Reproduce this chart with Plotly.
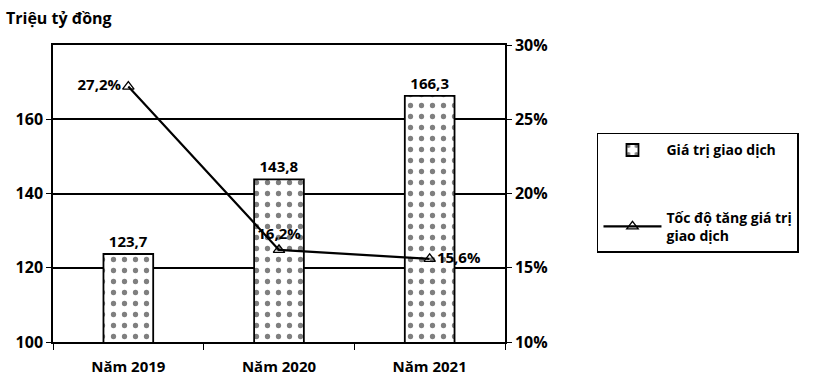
import plotly.graph_objects as go

# Data
years = ["Năm 2019", "Năm 2020", "Năm 2021"]
transaction_value = [123.7, 143.8, 166.3]      # triệu tỷ đồng
growth_rate = [27.2, 16.2, 15.6]               # %
left_ticks = [100, 120, 140, 160]
right_ticks = [10, 15, 20, 25, 30]

def vn(v):
    return f"{v:.1f}".replace(".", ",")

FONT = "'Open Sans', Lato, sans-serif"
BOLD = dict(family=FONT, size=15, color="black", weight="bold")

fig = go.Figure()

fig.add_trace(go.Bar(
    x=years, y=transaction_value, name="Giá trị giao dịch",
    width=0.33,
    marker=dict(color="white", line=dict(color="black", width=1.8),
                pattern=dict(shape=".", fgcolor="black", bgcolor="white",
                             size=11, solidity=0.18)),
    text=[vn(v) for v in transaction_value], textposition="outside",
    textfont=BOLD, cliponaxis=False,
    legendgroup="a",
))

fig.add_trace(go.Scatter(
    x=years, y=growth_rate, yaxis="y2", name="Tốc độ tăng giá trị<br>giao dịch",
    mode="lines+markers+text",
    line=dict(color="black", width=2.2),
    marker=dict(symbol="triangle-up-open", size=10, color="black",
                line=dict(color="black", width=1.3)),
    text=[vn(v) + "%" for v in growth_rate],
    textposition=["middle left", "top center", "middle right"],
    textfont=BOLD, cliponaxis=False,
    legendgroup="b",
))

fig.update_layout(
    width=827, height=385,
    margin=dict(l=53, r=322, t=45, b=43),
    paper_bgcolor="white", plot_bgcolor="white",
    font=dict(family=FONT, size=15, color="black"),
    showlegend=True,
    legend=dict(x=1.2035, y=0.704, xanchor="left", yanchor="top",
                bordercolor="black", borderwidth=1.5,
                font=dict(family=FONT, size=14, color="black", weight="bold"),
                traceorder="grouped", tracegroupgap=46,
                itemwidth=58),
    xaxis=dict(type="category", showline=True, linecolor="black", linewidth=1.8,
               mirror=True, ticks="outside", tickson="boundaries", ticklen=6,
               tickcolor="black", ticklabelstandoff=10, automargin=False,
               tickfont=dict(family=FONT, size=15, weight="bold"),
               showgrid=False),
    yaxis=dict(range=[100, 180], tickvals=left_ticks, showline=True,
               linecolor="black", linewidth=1.5, ticks="outside", ticklen=5,
               tickcolor="black", showgrid=True, gridcolor="black", gridwidth=1.8,
               automargin=False,
               tickfont=dict(family=FONT, size=16, weight="bold"), zeroline=False),
    yaxis2=dict(range=[10, 30], tickvals=right_ticks,
                ticktext=[f"{t}%" for t in right_ticks],
                overlaying="y", side="right", showline=True, linecolor="black",
                linewidth=1.5, ticks="outside", ticklen=5, tickcolor="black",
                showgrid=False, zeroline=False, automargin=False,
                tickfont=dict(family=FONT, size=16, weight="bold")),
    annotations=[dict(text="Triệu tỷ đồng", xref="paper", yref="paper",
                      x=-0.108, y=1.09, xanchor="left", yanchor="middle",
                      showarrow=False,
                      font=dict(family=FONT, size=16, weight="bold"))],
)

fig.write_html("out.html")
